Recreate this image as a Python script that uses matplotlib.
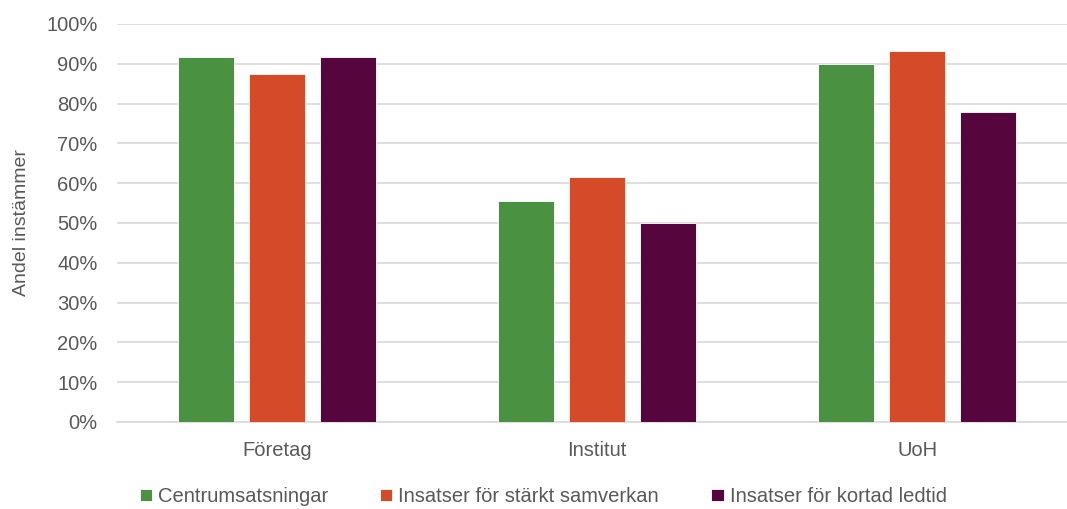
import numpy as np
import matplotlib
matplotlib.use('Agg')
import matplotlib.pyplot as plt
from matplotlib.ticker import PercentFormatter

plt.rcParams['font.family'] = ['Liberation Sans Narrow', 'Liberation Sans', 'DejaVu Sans']

groups = ["Företag", "Institut", "UoH"]
series = ["Centrumsatsningar", "Insatser för stärkt samverkan", "Insatser för kortad ledtid"]
centrum = [91.7, 55.6, 90.0]
samverkan = [87.5, 61.5, 93.3]
ledtid = [91.7, 50.0, 77.8]
colors = ["#4a9241", "#d64b27", "#56063c"]

fig = plt.figure(figsize=(10.67, 5.09), dpi=100)
# the plot area runs a little past the right edge, gridlines get cut there
ax = fig.add_axes([0.1097, 0.171, 0.90, 0.782])

x = np.arange(len(groups))
width = 0.175
step = 0.222
for i, (vals, name) in enumerate(zip([centrum, samverkan, ledtid], series)):
    ax.bar(x + (i - 1) * step, vals, width, color=colors[i], label=name,
           edgecolor='white', linewidth=0.6, zorder=3)

ax.set_xlim(-0.5, 2.5)
ax.set_ylim(0, 100)
ax.set_yticks(np.arange(0, 101, 10))
ax.yaxis.set_major_formatter(PercentFormatter(decimals=0))
ax.set_xticks(x)
ax.set_xticklabels(groups)
ax.grid(axis='y', color='#d9d9d9', linewidth=1.2, zorder=0)
for s in ['top', 'right', 'left']:
    ax.spines[s].set_visible(False)
ax.spines['bottom'].set_color('#d9d9d9')
ax.spines['bottom'].set_linewidth(1.2)
ax.tick_params(axis='both', length=0, labelsize=14.5, colors='#595959')
ax.tick_params(axis='y', pad=14)
ax.tick_params(axis='x', pad=14)
ax.set_ylabel("Andel instämmer", fontsize=14, color='#595959', labelpad=12)

fig.legend(loc='lower center', bbox_to_anchor=(0.509, -0.03), ncol=3, frameon=False,
           fontsize=14.5, labelcolor='#595959', handlelength=0.6, handleheight=0.6,
           handletextpad=0.3, columnspacing=2.6)

fig.savefig("out.png", dpi=100)
